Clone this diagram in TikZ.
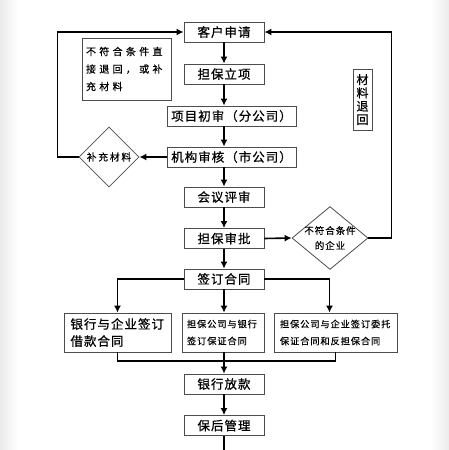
\documentclass[tikz,border=0pt]{standalone}
\usepackage{fontspec}
\setmainfont{Noto Sans CJK SC}[FakeBold=0.6]
\newfontfamily\boxfont[LetterSpace=8,FakeBold=0.6]{Noto Sans CJK SC}
\newfontfamily\notefont[LetterSpace=33,FakeBold=0.5]{Noto Sans CJK SC}
\newfontfamily\smallfont[LetterSpace=10,FakeBold=0.4]{Noto Sans CJK SC}
\newfontfamily\dmdfont[LetterSpace=18,FakeBold=0.4]{Noto Sans CJK SC}
\usetikzlibrary{arrows.meta,shapes.geometric}

\tikzset{
  stepbox/.style={draw=black!70, line width=0.8pt, inner sep=0pt, minimum height=20pt,
    font=\boxfont\fontsize{12.5}{15}\selectfont},
  twobox/.style={draw=black!70, line width=0.8pt, inner sep=0pt, minimum height=39pt, align=left},
  choice/.style={diamond, draw=black!70, line width=0.8pt, inner sep=-3pt, align=center},
  flow/.style={line width=1.6pt, -{Latex[length=7pt,width=7pt]}},
  link/.style={line width=1.6pt}
}

\begin{document}
\begin{tikzpicture}[x=1pt,y=-1pt]
  \useasboundingbox (0,0) rectangle (449,450);
  % grey page edges
  \shade[left color=black!8, right color=white] (0,0) rectangle (18,450);
  \shade[left color=white, right color=black!8] (431,0) rectangle (449,450);

  % main column
  \node[stepbox, minimum width=80pt] (kh) at (224,32) {客户申请};
  \node[stepbox, minimum width=80pt] (lx) at (224,74) {担保立项};
  \node[stepbox, minimum width=129pt] (cs) at (231.5,116) {项目初审（分公司）};
  \node[stepbox, minimum width=129pt] (jg) at (231.5,157) {机构审核（市公司）};
  \node[stepbox, minimum width=80pt] (ps) at (224,197) {会议评审};
  \node[stepbox, minimum width=80pt] (sp) at (224,238.5) {担保审批};
  \node[stepbox, minimum width=80pt] (ht) at (224,279) {签订合同};
  \node[stepbox, minimum width=80pt] (fk) at (224,384) {银行放款};
  \node[stepbox, minimum width=80pt] (bh) at (224,425.5) {保后管理};

  % contracts
  \node[twobox, minimum width=107pt, text width=94pt,
    font=\boxfont\fontsize{12.5}{17}\selectfont] (yq) at (117.5,332.5) {银行与企业签订\\借款合同};
  \node[twobox, minimum width=82pt, text width=72pt,
    font=\smallfont\fontsize{9.2}{17}\selectfont] (bz) at (223,332.5) {担保公司与银行\\签订保证合同};
  \node[twobox, minimum width=123pt, text width=111pt,
    font=\smallfont\fontsize{9.2}{17}\selectfont] (wt) at (335.5,332.5) {担保公司与企业签订委托\\保证合同和反担保合同};

  % side notes
  \node[draw=black!70, line width=0.8pt, inner sep=0pt, minimum width=89pt, minimum height=62pt,
    text width=81pt, align=left, font=\notefont\fontsize{10}{17.5}\selectfont] (tj) at (126.5,69)
    {不符合条件直\\接退回，或补\\充材料};
  \node[draw=black!70, line width=0.8pt, inner sep=0pt, minimum width=19pt, minimum height=61pt,
    align=center, font=\fontsize{12}{13.3}\selectfont] (th) at (362.5,99.5) {材\\料\\退\\回};

  % decisions
  \node[choice, minimum width=60pt, minimum height=60pt,
    font=\dmdfont\fontsize{9.8}{12}\selectfont] (bc) at (109,157) {补充材料};
  \node[choice, minimum width=76pt, minimum height=61pt,
    font=\smallfont\fontsize{9.5}{15}\selectfont] (bf) at (330,238) {不符合条件\\的企业};

  % arrows
  \foreach \a/\b in {kh/lx, lx/cs, cs/jg, jg/ps, ps/sp, sp/ht, ht/bz, bz/fk, fk/bh}
    \draw[flow] (kh.south |- \a.south) -- (kh.south |- \b.north);
  \draw[flow] (ht.west) -| (yq.north);
  \draw[flow] (ht.east) -| ([xshift=-6pt]wt.north);
  \coordinate (hb) at (224,361);
  \draw[link] (yq.south) |- (hb) -| (wt.south);
  \coordinate (end) at (224,450);
  \draw[link] (bh) -- (end);

  \draw[flow] (jg.west) -- (bc.east);
  \draw[flow] (bc.west) -- ++(-21,0) |- (kh.west);
  \draw[flow] (sp.east) -- (bf.west);
  \draw[flow] (bf.east) -- ++(23,0) |- (kh.east);
\end{tikzpicture}
\end{document}
